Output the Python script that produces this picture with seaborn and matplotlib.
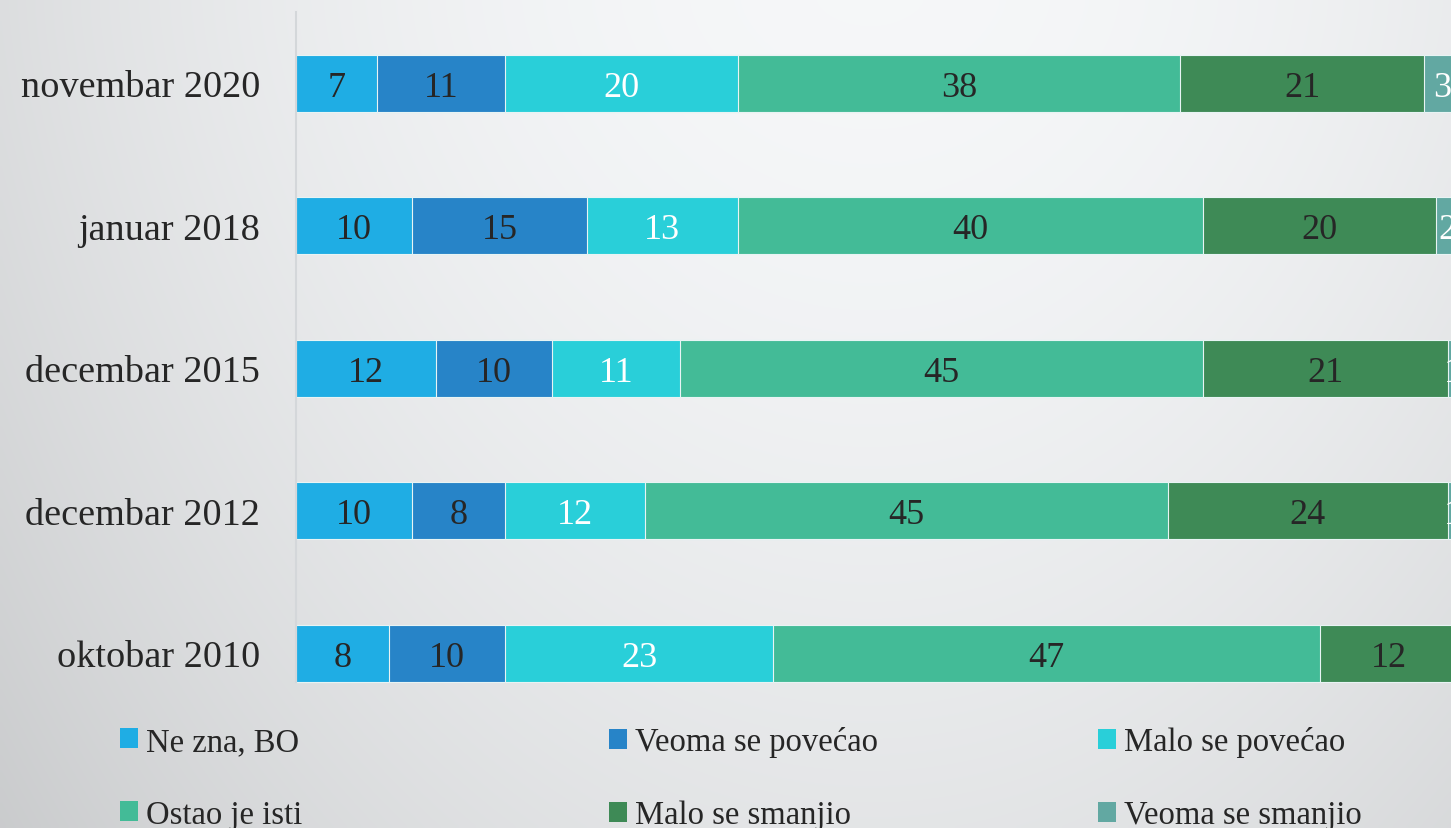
"""
stacked horizontal bars: change in perception, survey waves 2010-2020
"""

import numpy as np
import pandas as pd
import seaborn as sns
import matplotlib.pyplot as plt
from matplotlib.patches import Patch

waves = ["novembar 2020", "januar 2018", "decembar 2015", "decembar 2012", "oktobar 2010"]
series = ["Ne zna, BO", "Veoma se povećao", "Malo se povećao",
          "Ostao je isti", "Malo se smanjio", "Veoma se smanjio"]
ne_zna = [7, 10, 12, 10, 8]
veoma_pov = [11, 15, 10, 8, 10]
malo_pov = [20, 13, 11, 12, 23]
isti = [38, 40, 45, 45, 47]
malo_sm = [21, 20, 21, 24, 12]
veoma_sm = [3, 2, 1, 1, 0]

colors = ["#1fade4", "#2784c8", "#29cfd9", "#43bb97", "#3e8a56", "#62a8a2"]
label_colors = ["#262626", "#262626", "white", "#262626", "#262626", "white"]

values = np.array([ne_zna, veoma_pov, malo_pov, isti, malo_sm, veoma_sm])
cum = values.cumsum(axis=0)

sns.set_theme(style="white")
plt.rcParams["font.family"] = ["Liberation Serif", "DejaVu Serif"]

fig = plt.figure(figsize=(14.51, 8.29), dpi=100)

# soft grey gradient background
bg = fig.add_axes([0, 0, 1, 1], zorder=-10)
yy, xx = np.mgrid[0:1:200j, 0:1:350j]
light = 0.975 - 0.10 * ((xx - 0.6) / 0.6) ** 2 - 0.07 * yy ** 1.5
bg.imshow(np.dstack([light - 0.012, light - 0.006, light]).clip(0, 1),
          aspect="auto", extent=[0, 1, 0, 1], interpolation="bilinear")
bg.axis("off")

ax = fig.add_axes([296 / 1451, 1 - 725.25 / 829, 1 - 296 / 1451, (725.25 - 12.75) / 829])
ax.patch.set_alpha(0)

# draw cumulative totals from the widest down so each segment shows
for i in range(len(series) - 1, -1, -1):
    df = pd.DataFrame({"wave": waves, "total": cum[i]})
    sns.barplot(data=df, x="total", y="wave", orient="h", color=colors[i],
                saturation=1, width=0.4, edgecolor="#e8f4f4", linewidth=0.8, ax=ax)

for i in range(len(series)):
    for j in range(len(waves)):
        v = values[i, j]
        if v == 0:
            continue
        ax.text(cum[i, j] - v / 2, j + 0.03, str(v), ha="center", va="center",
                fontsize=26, color=label_colors[i])

ax.set_xlim(0, 99.3)
ax.set_ylim(4.5, -0.5)
ax.set_xlabel("")
ax.set_ylabel("")
ax.set_xticks([])
ax.tick_params(axis="y", length=0, pad=26, labelsize=27.5, labelcolor="#262626")
for s in ["top", "right", "bottom"]:
    ax.spines[s].set_visible(False)
ax.spines["left"].set_color("#d4d7da")
ax.spines["left"].set_linewidth(1.5)
ax.spines["left"].set_bounds(4.2, -0.5)

handles = [Patch(facecolor=c, edgecolor="none") for c in colors]
for k, x0 in enumerate([104, 593, 1082]):
    fig.legend([handles[k], handles[k + 3]], [series[k], series[k + 3]],
               loc="upper left", bbox_to_anchor=(x0 / 1451, 1 - 711 / 829),
               frameon=False, fontsize=23.5, labelspacing=1.3,
               handlelength=0.55, handleheight=0.55, handletextpad=0.25,
               borderpad=0, labelcolor="#262626")

fig.savefig("out.png", dpi=100)
